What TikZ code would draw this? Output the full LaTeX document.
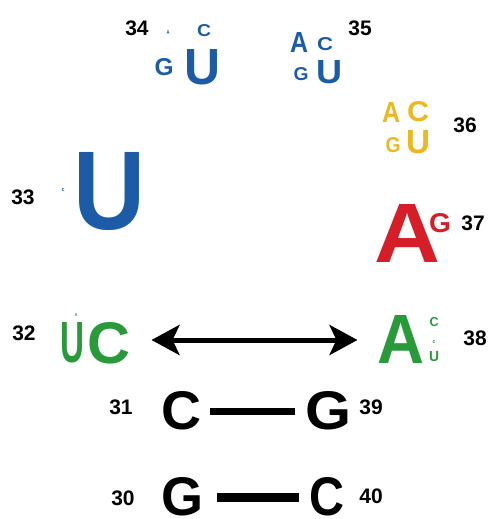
\documentclass[tikz,border=0pt]{standalone}
\usepackage{fontspec}
\setmainfont{Liberation Sans}
\usepackage{graphicx}
\usetikzlibrary{positioning, arrows.meta}
\definecolor{ntblue}{RGB}{28,92,166}
\definecolor{ntyellow}{RGB}{236,184,30}
\definecolor{ntred}{RGB}{214,30,40}
\definecolor{ntgreen}{RGB}{40,154,58}
\newcommand{\ltr}[3]{\resizebox{#1pt}{#2pt}{\bfseries #3}}
\tikzset{
  nt/.style={inner sep=0pt, outer sep=0pt},
  num/.style={inner sep=0pt, font=\fontsize{21}{21}\selectfont\bfseries},
}

\begin{document}
\begin{tikzpicture}[x=1pt, y=-1pt]
  \useasboundingbox (0,0) rectangle (491,519);
  % position 34
  \node[num] (n34) at (137,28) {34};
  \node[nt, ntblue] (a34) at (168,33) {\ltr{3}{4}{A}};
  \node[nt, ntblue] (c34) at (204,31) {\ltr{14}{12}{C}};
  \node[nt, ntblue] (g34) at (164,67) {\ltr{19}{17}{G}};
  \node[nt, ntblue] (u34) at (203,67) {\ltr{36}{35}{U}};
  % position 35
  \node[num] (n35) at (360,28) {35};
  \node[nt, ntblue] (a35) at (299,42) {\ltr{18}{20}{A}};
  \node[nt, ntblue] (c35) at (325,44) {\ltr{16}{13}{C}};
  \node[nt, ntblue] (g35) at (301,74) {\ltr{15}{13}{G}};
  \node[nt, ntblue] (u35) at (329,72) {\ltr{26}{23}{U}};
  % position 33
  \node[num] (n33) at (23,197) {33};
  \node[nt, ntblue] (c33) at (63,190) {\ltr{3}{3}{c}};
  \node[nt, ntblue] (u33) at (110,192) {\ltr{72}{77}{U}};
  % position 36
  \node[num] (n36) at (465,125) {36};
  \node[nt, ntyellow] (a36) at (391,112) {\ltr{18}{20}{A}};
  \node[nt, ntyellow] (c36) at (418,112) {\ltr{22}{20}{C}};
  \node[nt, ntyellow] (g36) at (393,145) {\ltr{15}{15}{G}};
  \node[nt, ntyellow] (u36) at (418,142) {\ltr{24}{23}{U}};
  % position 37
  \node[num] (n37) at (473,223) {37};
  \node[nt, ntred] (a37) at (408,233) {\ltr{66}{58}{A}};
  \node[nt, ntred] (g37) at (440,223) {\ltr{22}{19}{G}};
  % position 32
  \node[num] (n32) at (24,333) {32};
  \node[nt, ntgreen] (a32) at (76,315) {\ltr{3}{3}{A}};
  \node[nt, ntgreen] (u32) at (73,343) {\ltr{24}{40}{U}};
  \node[nt, ntgreen] (c32) at (109,343) {\ltr{43}{41}{C}};
  % position 38
  \node[num] (n38) at (475,338) {38};
  \node[nt, ntgreen] (a38) at (401,339) {\ltr{47}{48}{A}};
  \node[nt, ntgreen] (c38) at (434,322) {\ltr{9}{9}{C}};
  \node[nt, ntgreen] (e38) at (434,342) {\ltr{3}{3}{c}};
  \node[nt, ntgreen] (u38) at (434,357) {\ltr{10}{10}{U}};
  % stem pairs
  \node[num] (n31) at (121,407) {31};
  \node[nt] (c31) at (182,411) {\ltr{40}{38}{C}};
  \node[nt] (g39) at (328,411) {\ltr{46}{38}{G}};
  \node[num] (n39) at (371,407) {39};
  \node[num] (n30) at (123,498) {30};
  \node[nt] (g30) at (183,497) {\ltr{42}{38}{G}};
  \node[nt] (c40) at (327,497) {\ltr{35}{38}{C}};
  \node[num] (n40) at (371,496) {40};
  % connectors
  \draw[line width=5pt, {Stealth[length=28pt, width=30pt, inset=7pt]}-{Stealth[length=28pt, width=30pt, inset=7pt]},
    shorten <=21pt, shorten >=20pt] ([yshift=3pt]c32.east) -- ([yshift=-1pt]a38.west);
  \draw[line width=7pt, shorten <=8pt, shorten >=10pt] (c31) -- (g39);
  \draw[line width=9pt, shorten <=13pt, shorten >=10pt] (g30) -- (c40);
\end{tikzpicture}
\end{document}
